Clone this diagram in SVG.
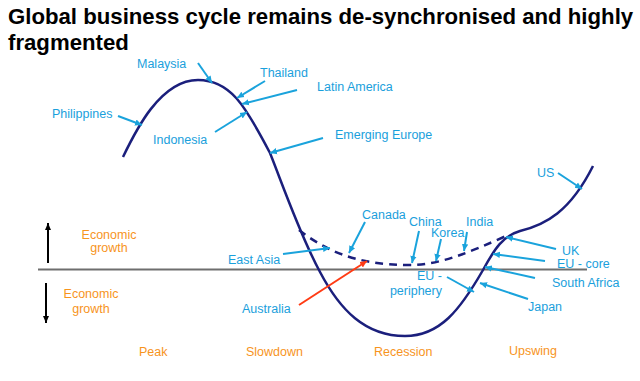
<svg xmlns="http://www.w3.org/2000/svg" width="640" height="381" viewBox="0 0 640 381">
<style>
  .title{font-family:"Liberation Sans",Arial,sans-serif;font-weight:bold;font-size:22.2px;fill:#000}
  .lbl{font-family:"Liberation Sans",Arial,sans-serif;font-size:12.5px;fill:#1aa0dc}
  .ph{font-family:"Liberation Sans",Arial,sans-serif;font-size:12.5px;fill:#f7941d}
  .con{stroke:#1aa3dc;stroke-width:2;fill:none;marker-end:url(#ah)}
  .red{stroke:#ff3b14;stroke-width:2;fill:none;marker-end:url(#ahr)}
  .ax{stroke:#000;stroke-width:2;fill:none;marker-end:url(#ahk)}
  .curve{stroke:#1b1f7c;stroke-width:2.5;fill:none}
</style>
<defs>
  <marker id="ah" markerUnits="userSpaceOnUse" markerWidth="8" markerHeight="8" refX="7" refY="4" orient="auto"><path d="M0,0.8 L7,4 L0,7.2 Z" fill="#1aa3dc"/></marker>
  <marker id="ahr" markerUnits="userSpaceOnUse" markerWidth="8" markerHeight="8" refX="7" refY="4" orient="auto"><path d="M0,0.8 L7,4 L0,7.2 Z" fill="#ff3b14"/></marker>
  <marker id="ahk" markerUnits="userSpaceOnUse" markerWidth="8" markerHeight="8" refX="7" refY="4" orient="auto"><path d="M0,1 L7,4 L0,7 Z" fill="#000"/></marker>
</defs>
<rect width="640" height="381" fill="#fff"/>
<g id="title">
  <text class="title" x="8" y="24">Global business cycle remains de-synchronised and highly</text>
  <text class="title" x="8" y="50">fragmented</text>
</g>
<g id="axis">
  <line x1="38" y1="269.5" x2="587" y2="269.5" stroke="#6e6e6e" stroke-width="2"/>
</g>
<g id="cycle">
  <path class="curve" d="M123,157 C135,132 160,80 198,80 C230,80 245,105 270,153 C282,183 300,235 320,272 C340,310 365,336 405,336 C440,336 460,310 483,270 C495,248 503,236 520,231 C545,225 570,212 593,166"/>
  <path class="curve" stroke-dasharray="8,6" d="M299,230 C325,250 355,265 410,265 C440,265 470,252 506,236"/>
</g>
<g id="connectors">
  <line class="con" x1="198" y1="63" x2="212" y2="83"/>
  <line class="con" x1="265" y1="81" x2="237" y2="98"/>
  <line class="con" x1="297" y1="90" x2="242" y2="104"/>
  <line class="con" x1="215" y1="132" x2="247" y2="112"/>
  <line class="con" x1="118" y1="116" x2="142" y2="125"/>
  <line class="con" x1="323" y1="138" x2="270" y2="153"/>
  <line class="con" x1="365" y1="222" x2="349" y2="253"/>
  <line class="con" x1="419" y1="231" x2="412" y2="263"/>
  <line class="con" x1="441" y1="239" x2="436" y2="261"/>
  <line class="con" x1="467" y1="232" x2="464" y2="251"/>
  <line class="con" x1="283" y1="254" x2="330" y2="248"/>
  <line class="red" x1="299" y1="305" x2="367" y2="261"/>
  <line class="con" x1="447" y1="277" x2="474" y2="292"/>
  <line class="con" x1="558" y1="173" x2="582" y2="189"/>
  <line class="con" x1="556" y1="249" x2="506" y2="237"/>
  <line class="con" x1="545" y1="261" x2="493" y2="254"/>
  <line class="con" x1="535" y1="278" x2="485" y2="267"/>
  <line class="con" x1="528" y1="299" x2="480" y2="283"/>
  <line class="ax" x1="48" y1="263" x2="48" y2="223"/>
  <line class="ax" x1="46" y1="283" x2="46" y2="323"/>
</g>
<g id="malaysia"><text class="lbl" x="137" y="67.5">Malaysia</text></g>
<g id="thailand"><text class="lbl" x="260" y="76.5">Thailand</text></g>
<g id="latin-america"><text class="lbl" x="317" y="91">Latin America</text></g>
<g id="philippines"><text class="lbl" x="52" y="117.5">Philippines</text></g>
<g id="indonesia"><text class="lbl" x="153" y="143.5">Indonesia</text></g>
<g id="emerging-europe"><text class="lbl" x="335" y="138.5">Emerging Europe</text></g>
<g id="canada"><text class="lbl" x="362" y="218.5">Canada</text></g>
<g id="china"><text class="lbl" x="409" y="225.5">China</text></g>
<g id="korea"><text class="lbl" x="431" y="236.5">Korea</text></g>
<g id="india"><text class="lbl" x="466" y="225.5">India</text></g>
<g id="east-asia"><text class="lbl" x="228" y="263.5">East Asia</text></g>
<g id="australia"><text class="lbl" x="242" y="312.5">Australia</text></g>
<g id="eu-periphery"><text class="lbl" x="442" y="279.5" text-anchor="end">EU -</text><text class="lbl" x="442" y="295" text-anchor="end">periphery</text></g>
<g id="us"><text class="lbl" x="537" y="176.5">US</text></g>
<g id="uk"><text class="lbl" x="562" y="254.5">UK</text></g>
<g id="eu-core"><text class="lbl" x="557" y="267.5">EU - core</text></g>
<g id="south-africa"><text class="lbl" x="552" y="286.5">South Africa</text></g>
<g id="japan"><text class="lbl" x="528" y="310.5">Japan</text></g>
<g id="growth-up"><text class="ph" x="109" y="238.5" text-anchor="middle">Economic</text><text class="ph" x="109" y="251.5" text-anchor="middle">growth</text></g>
<g id="growth-down"><text class="ph" x="91" y="297.5" text-anchor="middle">Economic</text><text class="ph" x="91" y="312.5" text-anchor="middle">growth</text></g>
<g id="peak"><text class="ph" x="139" y="356">Peak</text></g>
<g id="slowdown"><text class="ph" x="246" y="355.5">Slowdown</text></g>
<g id="recession"><text class="ph" x="374" y="355.5">Recession</text></g>
<g id="upswing"><text class="ph" x="509" y="354.5">Upswing</text></g>
</svg>
